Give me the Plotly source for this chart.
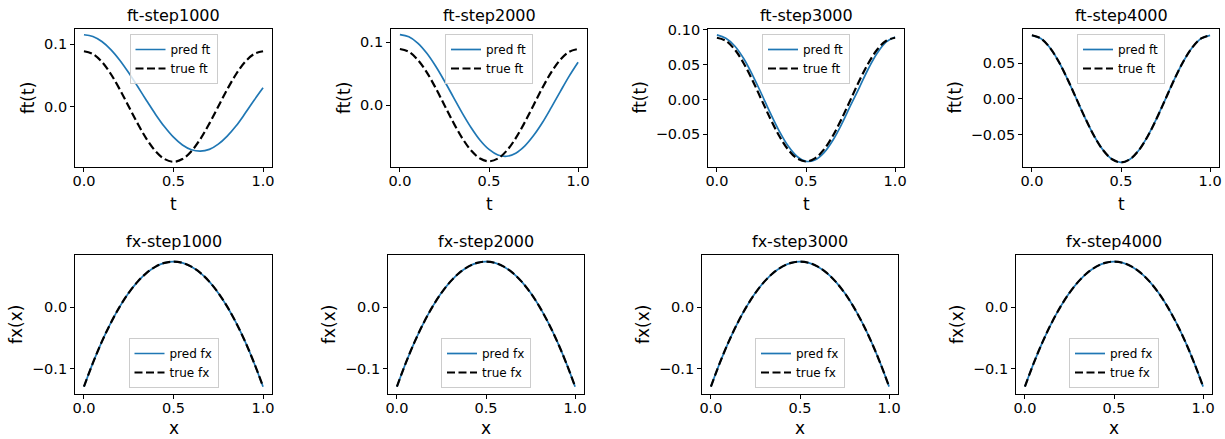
import plotly.graph_objects as go

# ---------------- data ----------------
t_vals = [0.0, 0.05, 0.1, 0.15, 0.2, 0.25, 0.3, 0.35, 0.4, 0.45, 0.5,
          0.55, 0.6, 0.65, 0.7, 0.75, 0.8, 0.85, 0.9, 0.95, 1.0]
x_vals = [0.0, 0.05, 0.1, 0.15, 0.2, 0.25, 0.3, 0.35, 0.4, 0.45, 0.5,
          0.55, 0.6, 0.65, 0.7, 0.75, 0.8, 0.85, 0.9, 0.95, 1.0]

true_ft = [0.0889, 0.0845, 0.0719, 0.0523, 0.0275, 0.0, -0.0275, -0.0523, -0.0719, -0.0845, -0.0889,
           -0.0845, -0.0719, -0.0523, -0.0275, 0.0, 0.0275, 0.0523, 0.0719, 0.0845, 0.0889]

pred_ft_1000 = [0.1155, 0.1127, 0.1046, 0.0916, 0.0745, 0.0542, 0.0321, 0.0093, -0.0127, -0.0327, -0.0494,
                -0.0620, -0.0696, -0.0719, -0.0690, -0.0605, -0.0475, -0.0310, -0.0110, 0.0100, 0.0300]
pred_ft_2000 = [0.1116, 0.1082, 0.0983, 0.0825, 0.0620, 0.0382, 0.0128, -0.0125, -0.0357, -0.0555, -0.0701,
                -0.0788, -0.0809, -0.0761, -0.0649, -0.0482, -0.0275, -0.0035, 0.0215, 0.0460, 0.0680]
pred_ft_3000 = [0.0930, 0.0880, 0.0770, 0.0590, 0.0353, 0.0084, -0.0194, -0.0453, -0.0668, -0.0817, -0.0886,
                -0.0868, -0.0766, -0.0588, -0.0353, -0.0084, 0.0177, 0.0443, 0.0668, 0.0828, 0.0900]
pred_ft_4000 = [0.0887, 0.0844, 0.0718, 0.0522, 0.0274, -0.0001, -0.0276, -0.0523, -0.0718, -0.0844, -0.0887,
                -0.0844, -0.0718, -0.0522, -0.0274, 0.0001, 0.0276, 0.0523, 0.0718, 0.0844, 0.0887]

true_fx = [-0.1293, -0.0906, -0.0559, -0.0254, 0.0011, 0.0236, 0.0419, 0.0562, 0.0663, 0.0725, 0.0745,
           0.0725, 0.0663, 0.0562, 0.0419, 0.0236, 0.0011, -0.0254, -0.0559, -0.0906, -0.1293]
pred_fx_1000 = [-0.1295, -0.0905, -0.0558, -0.0254, 0.0012, 0.0237, 0.0420, 0.0562, 0.0663, 0.0724, 0.0744,
                0.0724, 0.0662, 0.0561, 0.0418, 0.0235, 0.0010, -0.0255, -0.0560, -0.0907, -0.1296]
pred_fx_2000 = [-0.1294, -0.0906, -0.0559, -0.0254, 0.0011, 0.0236, 0.0419, 0.0562, 0.0663, 0.0725, 0.0745,
                0.0725, 0.0663, 0.0562, 0.0419, 0.0236, 0.0011, -0.0254, -0.0559, -0.0906, -0.1294]
pred_fx_3000 = [-0.1293, -0.0906, -0.0559, -0.0254, 0.0011, 0.0236, 0.0419, 0.0562, 0.0663, 0.0725, 0.0745,
                0.0725, 0.0663, 0.0562, 0.0419, 0.0236, 0.0011, -0.0254, -0.0559, -0.0906, -0.1293]
pred_fx_4000 = [-0.1293, -0.0906, -0.0559, -0.0254, 0.0011, 0.0236, 0.0419, 0.0562, 0.0663, 0.0725, 0.0745,
                0.0725, 0.0663, 0.0562, 0.0419, 0.0236, 0.0011, -0.0254, -0.0559, -0.0906, -0.1293]

steps = ["1000", "2000", "3000", "4000"]
pred_ft = [pred_ft_1000, pred_ft_2000, pred_ft_3000, pred_ft_4000]
pred_fx = [pred_fx_1000, pred_fx_2000, pred_fx_3000, pred_fx_4000]

x_tickvals = [0.0, 0.5, 1.0]
x_ticktext = ["0.0", "0.5", "1.0"]
ft_ticks = [
    ([0.0, 0.1], ["0.0", "0.1"]),
    ([0.0, 0.1], ["0.0", "0.1"]),
    ([-0.05, 0.0, 0.05, 0.10], ["\u22120.05", "0.00", "0.05", "0.10"]),
    ([-0.05, 0.0, 0.05], ["\u22120.05", "0.00", "0.05"]),
]
fx_ticks = ([-0.1, 0.0], ["\u22120.1", "0.0"])

# ---------------- layout geometry (pixels) ----------------
W, H = 1225, 439
top_x = [(75, 272), (391, 587), (708, 904), (1023, 1219)]
bot_x = [(75, 272), (388, 584), (702, 898), (1016, 1212)]
top_y = (29, 167)
bot_y = (255, 394)
ft_ranges = [(-0.0973, 0.1247), (-0.0979, 0.1206), (-0.0968, 0.1014), (-0.0953, 0.0977)]
fx_range = (-0.1413, 0.0853)
ylab_off_top = [47, 47, 68.5, 68.5]
ylab_off_bot = [59.5, 59.5, 59.5, 59.5]

FONT = "DejaVu Sans"
BLUE = "#1f77b4"


def px(x):
    return x / W


def py(y):
    return 1 - y / H


fig = go.Figure()
layout = dict(
    width=W, height=H,
    margin=dict(l=0, r=0, t=0, b=0, autoexpand=False),
    paper_bgcolor="white", plot_bgcolor="white",
    font=dict(family=FONT, color="black"),
    showlegend=True,
)
annotations = []

axis_common = dict(
    showline=True, mirror=True, linecolor="black", linewidth=0.9,
    ticks="outside", ticklen=4, tickwidth=0.9, tickcolor="black",
    showgrid=False, zeroline=False, automargin=False,
    tickfont=dict(family=FONT, size=14.5, color="black"),
    fixedrange=True,
)

for row in range(2):
    for col in range(4):
        idx = row * 4 + col + 1
        sfx = "" if idx == 1 else str(idx)
        xa, ya = "x" + sfx, "y" + sfx
        leg = "legend" + sfx
        if row == 0:
            x0, x1 = top_x[col]
            y0, y1 = top_y
            yr = ft_ranges[col]
            tv, tt = ft_ticks[col]
            pred, true = pred_ft[col], true_ft
            xs = t_vals
            title = "ft-step" + steps[col]
            xlab, ylab = "t", "ft(t)"
            names = ("pred ft", "true ft")
            yoff = ylab_off_top[col]
        else:
            x0, x1 = bot_x[col]
            y0, y1 = bot_y
            yr = fx_range
            tv, tt = fx_ticks
            pred, true = pred_fx[col], true_fx
            xs = x_vals
            title = "fx-step" + steps[col]
            xlab, ylab = "x", "fx(x)"
            names = ("pred fx", "true fx")
            yoff = ylab_off_bot[col]

        layout["xaxis" + sfx] = dict(
            axis_common, domain=[px(x0), px(x1)], anchor=ya,
            range=[-0.05, 1.05], tickvals=x_tickvals, ticktext=x_ticktext,
            ticklabelstandoff=-3,
        )
        layout["yaxis" + sfx] = dict(
            axis_common, domain=[py(y1), py(y0)], anchor=xa,
            range=list(yr), tickvals=tv, ticktext=tt,
        )

        fig.add_trace(go.Scatter(
            x=xs, y=pred, mode="lines", name=names[0],
            line=dict(color=BLUE, width=1.7, shape="spline", smoothing=1.0),
            xaxis=xa, yaxis=ya, legend=leg,
        ))
        fig.add_trace(go.Scatter(
            x=xs, y=true, mode="lines", name=names[1],
            line=dict(color="black", width=2.2, dash="8px,3.5px", shape="spline", smoothing=1.0),
            xaxis=xa, yaxis=ya, legend=leg,
        ))

        cx = (x0 + x1) / 2
        if row == 0:
            legpos = dict(x=px(cx), xanchor="center", y=py(y0 + 5), yanchor="top")
        else:
            legpos = dict(x=px(cx), xanchor="center", y=py(y1 - 6), yanchor="bottom")
        layout[leg] = dict(
            legpos,
            bgcolor="rgba(255,255,255,0.8)", bordercolor="#cccccc", borderwidth=1,
            font=dict(family=FONT, size=12, color="black"),
            tracegroupgap=0, itemclick=False, itemdoubleclick=False,
        )

        # subplot title
        annotations.append(dict(
            text=title, xref="paper", yref="paper", x=px(cx), y=py(y0 - 13.5),
            xanchor="center", yanchor="middle", showarrow=False,
            font=dict(family=FONT, size=16, color="black"),
        ))
        # x label
        if row == 0:
            xl_pos = dict(y=py(y1 + 37), yanchor="middle")
        else:
            xl_pos = dict(y=0.0, yanchor="bottom")
        annotations.append(dict(
            xl_pos, text=xlab, xref="paper", yref="paper", x=px(cx),
            xanchor="center", showarrow=False, borderpad=0,
            font=dict(family=FONT, size=17, color="black"),
        ))
        # y label
        annotations.append(dict(
            text=ylab, xref="paper", yref="paper", x=px(x0 - yoff), y=py((y0 + y1) / 2),
            xanchor="center", yanchor="middle", showarrow=False, textangle=-90,
            font=dict(family=FONT, size=17, color="black"),
        ))

layout["annotations"] = annotations
fig.update_layout(**layout)
fig.write_html("out.html", config={"displayModeBar": False},
               post_script="document.body.style.margin='0';")
